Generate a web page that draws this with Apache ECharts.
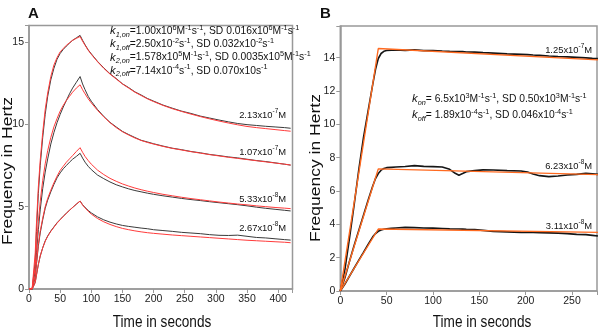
<!DOCTYPE html>
<html><head><meta charset="utf-8">
<script src="https://cdn.jsdelivr.net/npm/echarts@6/dist/echarts.min.js"></script>
<style>html,body{margin:0;padding:0;background:#fff}#c{width:600px;height:331px}</style>
</head><body><div id="c"></div>
<script>
// ---------- Panel A data (time in s, frequency in Hz) ----------
const tA = [0,5,8,10,12,15,18,22,26,30,35,40,45,50,55,60,65,70,76,82,86,90,95,100,110,120,130,140,150,160,170,180,190,200,215,230,245,260,275,290,305,320,335,350,365,380,395,410,420];
const dataA1 = [0.02,-0.03,0.05,1.7,3.5,5.8,7.5,9.2,10.6,11.7,12.7,13.4,13.95,14.3,14.55,14.75,14.93,15.1,15.25,15.4,15.1,14.83,14.52,14.28,13.82,13.43,13.07,12.78,12.46,12.23,11.97,11.78,11.57,11.41,11.17,10.98,10.8,10.66,10.5,10.38,10.26,10.15,10.05,9.98,9.93,9.88,9.84,9.8,9.76];
const fitA1 = [0,0,0,2.2,4.0,6.2,7.8,9.5,10.9,11.9,12.9,13.6,14.05,14.4,14.6,14.8,14.95,15.1,15.22,15.33,15.05,14.8,14.5,14.25,13.8,13.4,13.05,12.75,12.45,12.2,11.95,11.75,11.55,11.38,11.15,10.95,10.78,10.62,10.47,10.33,10.2,10.08,9.97,9.87,9.8,9.74,9.68,9.62,9.58];
const dataA2 = [0.03,-0.02,0.04,1.1,2.2,3.6,4.8,6.1,7.1,7.9,8.8,9.5,10.1,10.6,11.05,11.45,11.85,12.2,12.55,12.9,12.45,12.1,11.7,11.4,10.9,10.48,10.12,9.84,9.57,9.38,9.2,9.03,8.93,8.82,8.68,8.55,8.46,8.35,8.27,8.17,8.1,8.02,7.96,7.88,7.8,7.74,7.66,7.58,7.52];
const fitA2 = [0,0,0,1.4,2.6,4.1,5.3,6.6,7.6,8.4,9.2,9.85,10.35,10.8,11.15,11.45,11.7,11.95,12.2,12.4,12.1,11.85,11.55,11.3,10.85,10.45,10.1,9.8,9.55,9.35,9.17,9.02,8.9,8.8,8.66,8.54,8.44,8.34,8.25,8.16,8.08,8.0,7.93,7.86,7.79,7.72,7.65,7.58,7.53];
const dataA3 = [0.02,0.0,0.03,0.7,1.5,2.6,3.4,4.2,4.9,5.4,5.9,6.35,6.75,7.05,7.3,7.5,7.7,7.88,8.05,8.24,7.95,7.7,7.45,7.25,6.92,6.7,6.5,6.33,6.2,6.08,5.98,5.9,5.82,5.75,5.66,5.58,5.5,5.43,5.37,5.3,5.24,5.18,5.12,5.05,4.97,4.9,4.84,4.78,4.74];
const fitA3 = [0,0,0,0.8,1.6,2.7,3.5,4.3,5.0,5.5,6.0,6.45,6.85,7.2,7.45,7.7,7.9,8.1,8.35,8.58,8.3,8.05,7.8,7.58,7.22,6.95,6.72,6.54,6.38,6.25,6.13,6.03,5.94,5.86,5.75,5.66,5.57,5.49,5.42,5.35,5.28,5.22,5.16,5.11,5.05,5.0,4.95,4.91,4.88];
const dataA4 = [0.02,-0.02,0.03,0.4,0.85,1.48,2.0,2.5,2.92,3.22,3.52,3.77,4.02,4.22,4.42,4.6,4.78,4.95,5.15,5.34,5.12,4.95,4.77,4.62,4.38,4.2,4.06,3.95,3.86,3.8,3.75,3.7,3.66,3.6,3.55,3.5,3.44,3.4,3.36,3.3,3.26,3.25,3.27,3.2,3.13,3.1,3.05,3.0,2.97];
const fitA4 = [0,0,0,0.4,0.85,1.5,2.0,2.5,2.9,3.2,3.5,3.75,4.0,4.2,4.4,4.6,4.78,4.95,5.15,5.34,5.1,4.92,4.72,4.55,4.28,4.08,3.92,3.79,3.68,3.6,3.53,3.47,3.42,3.38,3.33,3.28,3.24,3.2,3.16,3.12,3.08,3.04,3.0,2.96,2.93,2.9,2.87,2.84,2.81];
const labelsA = ['2.13x10|-7|M','1.07x10|-7|M','5.33x10|-8|M','2.67x10|-8|M'];

// ---------- Panel B data ----------
const tB = [0,5,10,15,20,25,30,35,38,41,44,47,50,55,60,70,80,90,100,110,118,124,128,132,136,145,154,165,180,195,202,208,215,225,235,245,255,265,272,278];
const dataB1 = [0,1.3,3.2,5.2,7.3,9.2,10.8,12.4,13.3,13.95,14.25,14.38,14.43,14.45,14.46,14.44,14.47,14.42,14.43,14.4,14.38,14.37,14.36,14.36,14.34,14.33,14.3,14.27,14.23,14.2,14.18,14.16,14.14,14.1,14.07,14.05,14.02,13.99,13.96,13.94];
const dataB2 = [0,0.8,1.8,2.75,3.65,4.55,5.45,6.3,6.75,7.05,7.25,7.35,7.4,7.42,7.44,7.47,7.52,7.48,7.46,7.44,7.3,7.06,6.95,7.05,7.16,7.22,7.27,7.26,7.22,7.2,7.14,7.02,6.92,6.86,6.9,6.96,7.0,7.06,7.03,7.0];
const dataB3 = [0,0.42,0.9,1.38,1.85,2.32,2.8,3.25,3.45,3.58,3.66,3.7,3.73,3.76,3.78,3.82,3.8,3.78,3.77,3.75,3.73,3.72,3.72,3.71,3.7,3.68,3.64,3.58,3.55,3.52,3.51,3.52,3.5,3.49,3.47,3.44,3.4,3.38,3.34,3.3];
const tFitB = [0,41,278];
const fitB1 = [0,14.55,13.87];
const fitB2 = [0,7.33,6.98];
const fitB3 = [0,3.72,3.52];
const labelsB = ['1.25x10|-7|M','6.23x10|-8|M','3.11x10|-8|M'];

// ---------- chart ----------
const FONT = 'Liberation Sans, Arial, sans-serif';
const pairs = (t, v) => t.map((x, i) => [x, v[i]]);
const chart = echarts.init(document.getElementById('c'), null, {renderer: 'canvas'});

function mkRich(fs) {
  return {
    n: {fontSize: fs, fontFamily: FONT, color: '#111', lineHeight: 14},
    k: {fontSize: fs + 1, fontFamily: FONT, fontStyle: 'italic', color: '#111', lineHeight: 14},
    sub: {fontSize: fs - 3, fontFamily: FONT, fontStyle: 'italic', color: '#111', verticalAlign: 'bottom', lineHeight: 8},
    sup: {fontSize: fs - 3, fontFamily: FONT, color: '#111', verticalAlign: 'top', lineHeight: 8}
  };
}
const richAnn = mkRich(10.3), richLab = mkRich(9.4);
function conc(s) { const p = s.split('|'); return '{n|' + p[0] + '}{sup|' + p[1] + '}{n|' + p[2] + '}'; }
function txt(x, y, text, rich, align) {
  return {type: 'text', x: x, y: y, silent: true,
    style: {text: text, rich: rich, textAlign: align || 'left', textVerticalAlign: 'middle', fill: '#111'}};
}
const annA = [
  '{k|k}{sub|1,on}{n|=1.00x10}{sup|6}{n|M}{sup|-1}{n|s}{sup|-1}{n|, SD 0.016x10}{sup|6}{n|M}{sup|-1}{n|s}{sup|-1}',
  '{k|k}{sub|1,off}{n|=2.50x10}{sup|-2}{n|s}{sup|-1}{n|, SD 0.032x10}{sup|-2}{n|s}{sup|-1}',
  '{k|k}{sub|2,on}{n|=1.578x10}{sup|5}{n|M}{sup|-1}{n|s}{sup|-1}{n|, SD 0.0035x10}{sup|5}{n|M}{sup|-1}{n|s}{sup|-1}',
  '{k|k}{sub|2,off}{n|=7.14x10}{sup|-4}{n|s}{sup|-1}{n|, SD 0.070x10s}{sup|-1}'
];
const annB = [
  '{k|k}{sub|on}{n|= 6.5x10}{sup|3}{n|M}{sup|-1}{n|s}{sup|-1}{n|, SD 0.50x10}{sup|3}{n|M}{sup|-1}{n|s}{sup|-1}',
  '{k|k}{sub|off}{n|= 1.89x10}{sup|-4}{n|s}{sup|-1}{n|, SD 0.046x10}{sup|-4}{n|s}{sup|-1}'
];

const graphics = [
  {type: 'text', x: 28, y: 14, style: {text: 'A', font: 'bold 15px ' + FONT, fill: '#111', textVerticalAlign: 'middle'}},
  {type: 'text', x: 320, y: 14, style: {text: 'B', font: 'bold 15px ' + FONT, fill: '#111', textVerticalAlign: 'middle'}},
  {type: 'text', x: 162, y: 323, scaleX: 0.85, style: {text: 'Time in seconds', font: '16px ' + FONT, fill: '#111', textAlign: 'center', textVerticalAlign: 'middle'}},
  {type: 'text', x: 482, y: 323, scaleX: 0.85, style: {text: 'Time in seconds', font: '16px ' + FONT, fill: '#111', textAlign: 'center', textVerticalAlign: 'middle'}},
  {type: 'text', x: 8, y: 171, rotation: Math.PI / 2, scaleY: 0.88, style: {text: 'Frequency in Hertz', font: '17.5px ' + FONT, fill: '#111', textAlign: 'center', textVerticalAlign: 'middle'}},
  {type: 'text', x: 316, y: 168, rotation: Math.PI / 2, scaleY: 0.88, style: {text: 'Frequency in Hertz', font: '17.5px ' + FONT, fill: '#111', textAlign: 'center', textVerticalAlign: 'middle'}}
];
annA.forEach((s, i) => graphics.push(txt(110, 31 + i * 13.3, s, richAnn)));
annB.forEach((s, i) => graphics.push(txt(412, 99 + i * 16, s, richAnn)));
const labAy = [115, 152, 199, 228];
labelsA.forEach((s, i) => graphics.push(txt(286, labAy[i], conc(s), richLab, 'right')));
const labBy = [50, 166, 226];
labelsB.forEach((s, i) => graphics.push(txt(592, labBy[i], conc(s), richLab, 'right')));

function xAx(grid, max) {
  return {gridIndex: grid, type: 'value', min: 0, max: max, interval: 50,
    axisLine: {show: true, lineStyle: {color: '#999', width: 1.5}},
    axisTick: {show: true, length: 4, lineStyle: {color: '#999'}},
    axisLabel: {color: '#222', fontSize: 10.5, fontFamily: FONT, margin: 5,
      formatter: v => (v % 50 === 0 ? String(v) : '')},
    splitLine: {show: false}};
}
function yAx(grid, max, step) {
  return {gridIndex: grid, type: 'value', min: 0, max: max, interval: step,
    axisLine: {show: true, lineStyle: {color: '#999', width: 1.5}},
    axisTick: {show: true, length: 4, lineStyle: {color: '#999'}},
    axisLabel: {color: '#222', fontSize: 10.5, fontFamily: FONT, margin: 5,
      formatter: v => (v % step === 0 ? String(v) : '')},
    splitLine: {show: false}};
}
function line(xi, t, v, color, w, z) {
  return {type: 'line', xAxisIndex: xi, yAxisIndex: xi, data: pairs(t, v), showSymbol: false,
    symbol: 'none', silent: true, animation: false, z: z,
    lineStyle: {color: color, width: w}};
}
const blackA = '#3a3a3a', redA = '#ff3b3b', blackB = '#151515', orangeB = '#ff6a20';
const option = {
  animation: false,
  backgroundColor: '#fff',
  grid: [
    {left: 29, top: 25.5, width: 263.5, height: 263.5, show: true, borderColor: '#999', borderWidth: 1.5, containLabel: false},
    {left: 340.3, top: 26, width: 257.5, height: 265, show: true, borderColor: '#999', borderWidth: 1.5, containLabel: false}
  ],
  xAxis: [xAx(0, 423), xAx(1, 277)],
  yAxis: [yAx(0, 16, 5), yAx(1, 15.9, 2)],
  series: [
    line(0, tA, dataA1, blackA, 1, 2), line(0, tA, dataA2, blackA, 1, 2),
    line(0, tA, dataA3, blackA, 1, 2), line(0, tA, dataA4, blackA, 1, 2),
    line(0, tA, fitA1, redA, 1, 3), line(0, tA, fitA2, redA, 1, 3),
    line(0, tA, fitA3, redA, 1, 3), line(0, tA, fitA4, redA, 1, 3),
    line(1, tB, dataB1, blackB, 1.6, 2), line(1, tB, dataB2, blackB, 1.6, 2), line(1, tB, dataB3, blackB, 1.6, 2),
    line(1, tFitB, fitB1, orangeB, 1.4, 3), line(1, tFitB, fitB2, orangeB, 1.4, 3), line(1, tFitB, fitB3, orangeB, 1.4, 3)
  ],
  graphic: graphics
};
chart.setOption(option);
</script></body></html>
